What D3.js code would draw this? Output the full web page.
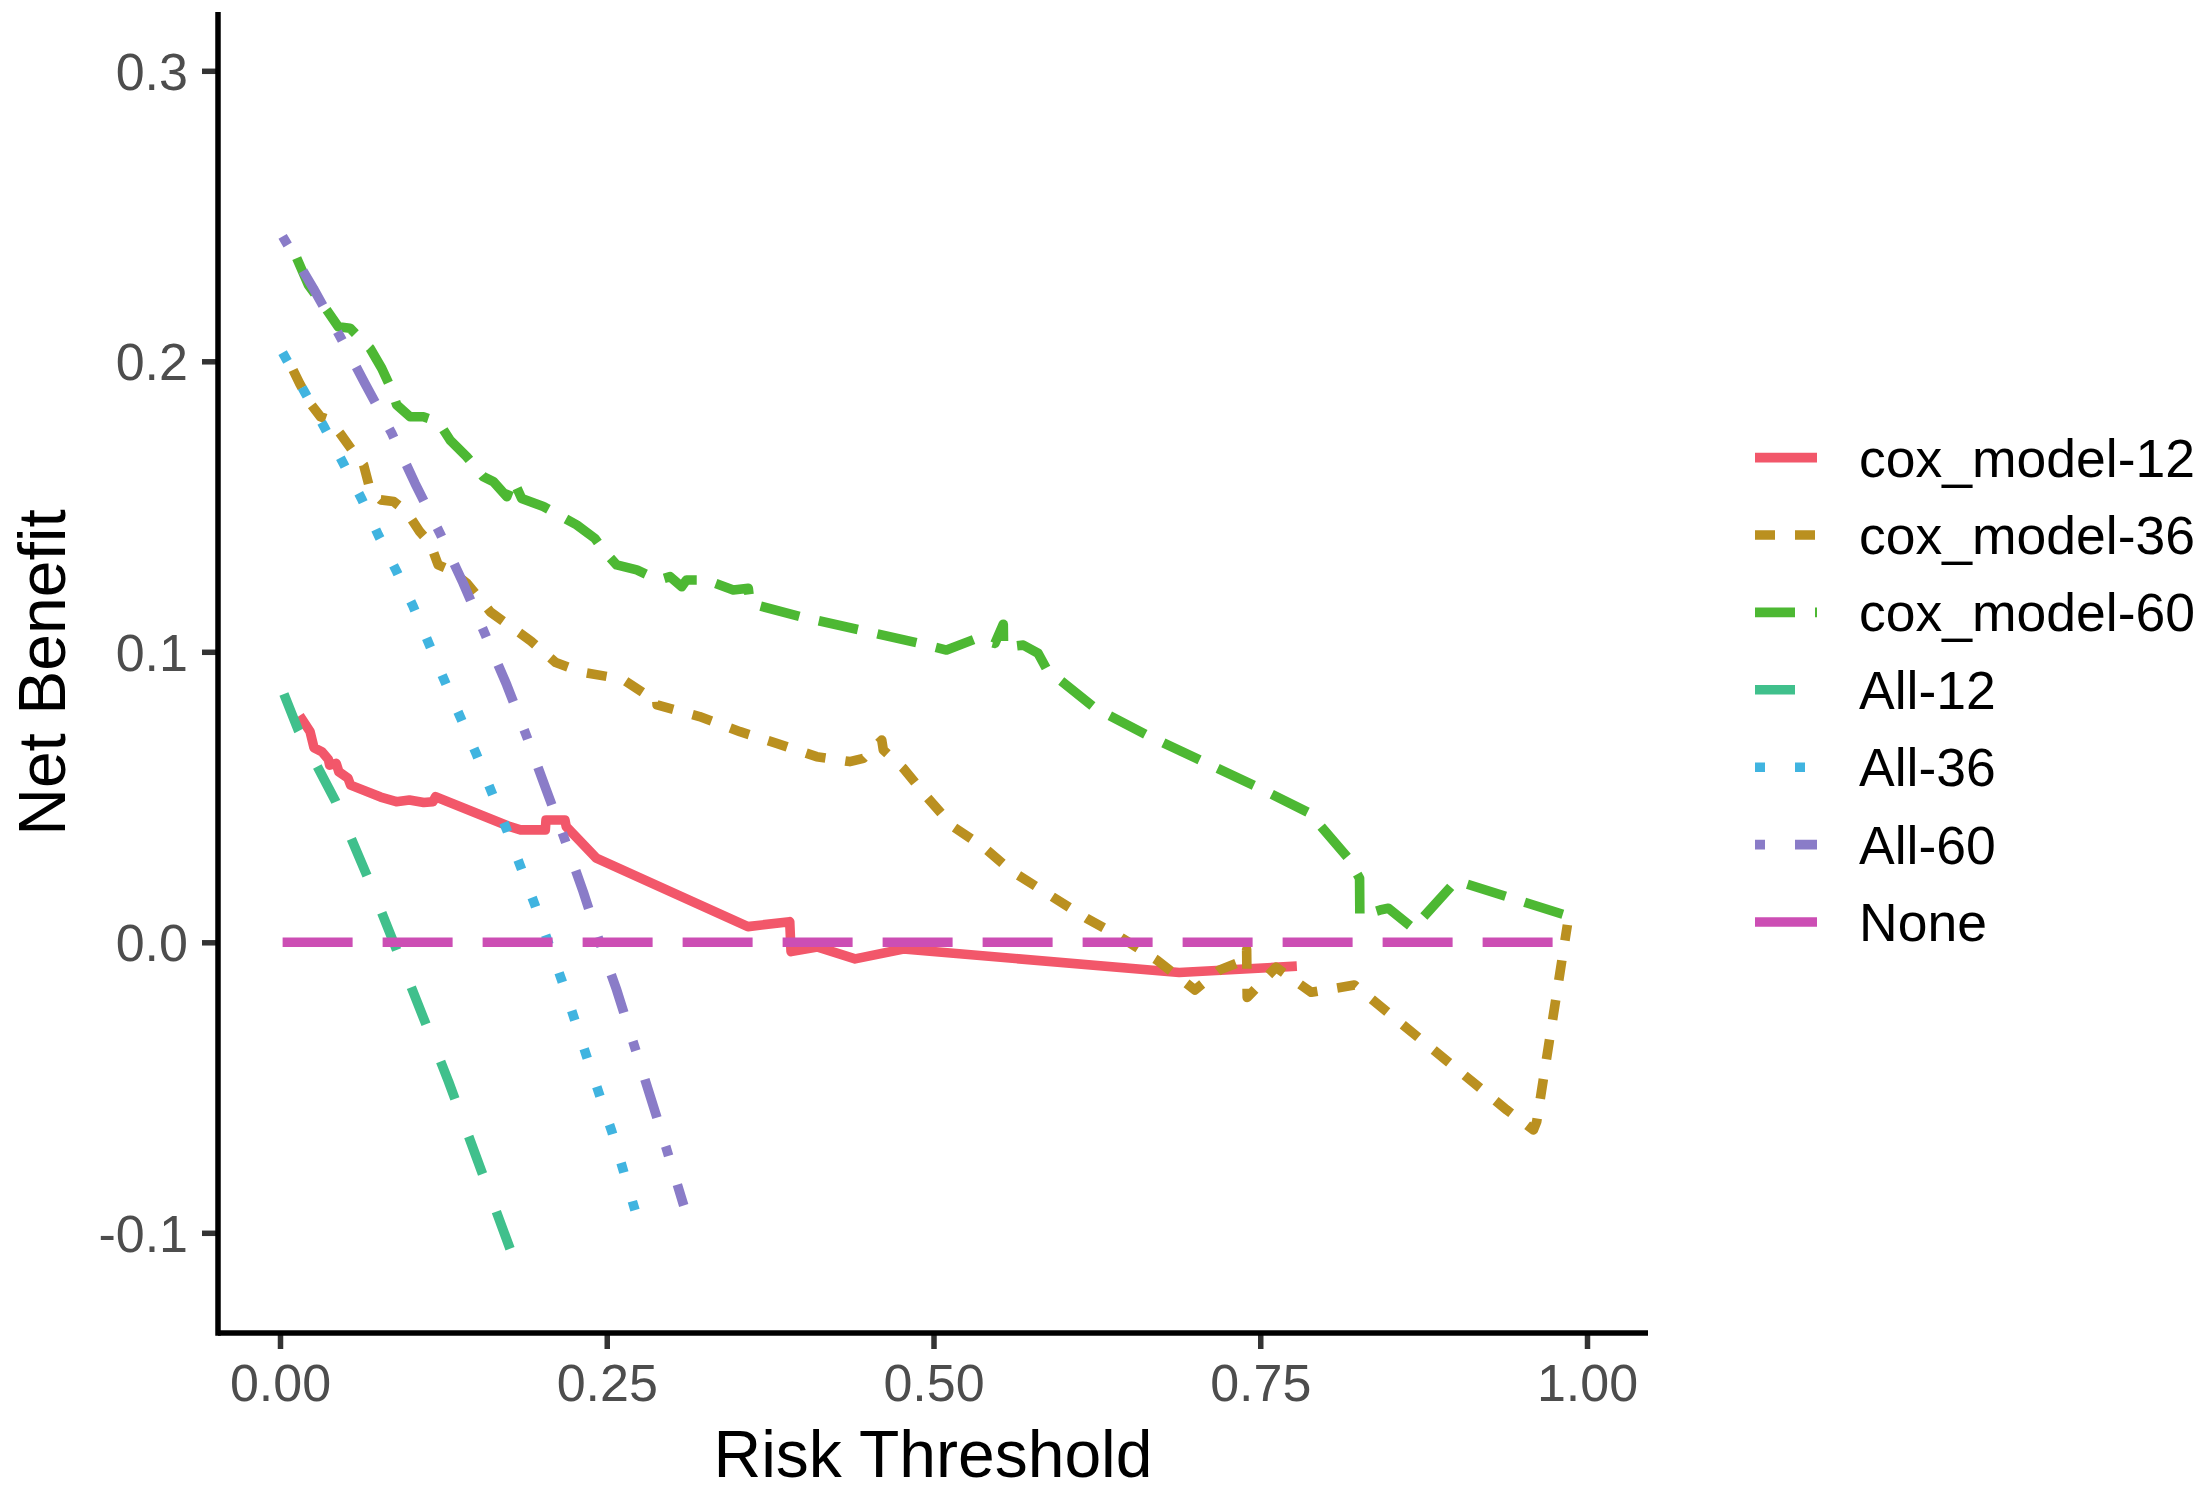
<!DOCTYPE html>
<html>
<head>
<meta charset="utf-8">
<script src="https://cdn.jsdelivr.net/npm/d3@7/dist/d3.min.js"></script>
<style>
  html, body { margin: 0; padding: 0; background: #ffffff; }
  svg { display: block; }
  text { font-family: "Liberation Sans", Arial, Helvetica, sans-serif; }
</style>
</head>
<body>
<svg id="chart" width="2208" height="1494"></svg>
<script>
// ---------- data ----------
const seriesNames = ["cox_model-12", "cox_model-36", "cox_model-60", "All-12", "All-36", "All-60", "None"];
const seriesColors = ["#F2576A", "#BA9020", "#4DB833", "#40C08C", "#40B4E0", "#8A7CC8", "#CC4EB4"];
const seriesDashes = ["", "20,20", "40,20", "40,40", "10,30", "10,30,40,30", "70,30"];

const xTicks = [0, 0.25, 0.5, 0.75, 1.0];
const xTickLabels = ["0.00", "0.25", "0.50", "0.75", "1.00"];
const yTicks = [-0.1, 0.0, 0.1, 0.2, 0.3];
const yTickLabels = ["-0.1", "0.0", "0.1", "0.2", "0.3"];

// [risk threshold, net benefit]
const coxModel12 = [
  [0.015, 0.078], [0.023, 0.0725], [0.026, 0.067], [0.032, 0.0656], [0.037, 0.063],
  [0.038, 0.061], [0.043, 0.0616], [0.045, 0.0587], [0.052, 0.0565], [0.054, 0.0541],
  [0.077, 0.050], [0.089, 0.0484], [0.099, 0.049], [0.110, 0.0481], [0.117, 0.0484],
  [0.119, 0.0501], [0.176, 0.0398], [0.184, 0.0387], [0.203, 0.0387], [0.2035, 0.0421],
  [0.218, 0.0421], [0.219, 0.0398], [0.242, 0.029], [0.358, 0.0054], [0.390, 0.0071],
  [0.391, -0.0032], [0.411, -0.0016], [0.440, -0.0057], [0.477, -0.0023], [0.688, -0.0104],
  [0.778, -0.0082]
];
const coxModel36 = [
  [0.010, 0.197], [0.015, 0.1924], [0.024, 0.185], [0.031, 0.1809], [0.038, 0.1798],
  [0.046, 0.1752], [0.056, 0.1689], [0.064, 0.1643], [0.069, 0.1557], [0.077, 0.1523],
  [0.087, 0.1517], [0.097, 0.1482], [0.107, 0.1413], [0.115, 0.1373], [0.121, 0.1299],
  [0.130, 0.1282], [0.143, 0.1236], [0.161, 0.1137], [0.192, 0.1037], [0.211, 0.0963],
  [0.231, 0.093], [0.262, 0.0906], [0.279, 0.0856], [0.2882, 0.0845], [0.2885, 0.0817],
  [0.321, 0.0777], [0.352, 0.0725], [0.380, 0.0685], [0.4106, 0.0639], [0.436, 0.0622],
  [0.4463, 0.0633], [0.4604, 0.0696], [0.4616, 0.0662], [0.4769, 0.0599], [0.4948, 0.0501],
  [0.515, 0.0398], [0.538, 0.0329], [0.5585, 0.0249], [0.617, 0.0083], [0.6427, 0.0019],
  [0.6708, -0.0061], [0.700, -0.0164], [0.719, -0.0095], [0.739, -0.0060], [0.7396, -0.0025],
  [0.7400, -0.0190], [0.762, -0.0086], [0.789, -0.0172], [0.822, -0.0147], [0.9386, -0.0577],
  [0.959, -0.0646], [0.9615, -0.0618], [0.985, 0.006]
];
const coxModel60 = [
  [0.0128, 0.2355], [0.0217, 0.2263], [0.0357, 0.2177], [0.0446, 0.2119], [0.0536, 0.2114],
  [0.0612, 0.2079], [0.0689, 0.2045], [0.0778, 0.1976], [0.0855, 0.1901], [0.0893, 0.185],
  [0.0995, 0.1809], [0.1097, 0.1809], [0.1211, 0.1792], [0.1301, 0.1729], [0.1428, 0.1672],
  [0.1555, 0.1603], [0.1632, 0.1586], [0.1735, 0.1534], [0.1785, 0.1591], [0.1849, 0.1528],
  [0.2015, 0.150], [0.227, 0.1437], [0.241, 0.139], [0.2474, 0.135], [0.2576, 0.1299],
  [0.273, 0.1282], [0.2895, 0.1247], [0.2984, 0.1259], [0.3073, 0.1224], [0.311, 0.1247],
  [0.329, 0.1247], [0.3328, 0.1236], [0.3468, 0.1213], [0.3583, 0.1219], [0.3596, 0.1167],
  [0.398, 0.1121], [0.4438, 0.1075], [0.4897, 0.1029], [0.510, 0.1006], [0.533, 0.1046],
  [0.547, 0.1029], [0.5534, 0.1095], [0.5536, 0.1015], [0.5687, 0.1023], [0.580, 0.0995],
  [0.5866, 0.0940], [0.6236, 0.0806], [0.663, 0.0714], [0.747, 0.0536], [0.788, 0.0444],
  [0.8174, 0.0289], [0.826, 0.022], [0.8262, 0.0090], [0.8416, 0.0111], [0.848, 0.0117],
  [0.867, 0.0048], [0.900, 0.0212], [0.979, 0.0100], [0.996, 0.0077]
];
const all12 = [
  [0.003, 0.0855], [0.014, 0.073], [0.042, 0.049], [0.0663, 0.0232], [0.0893, -0.0027],
  [0.129, -0.048], [0.176, -0.1055]
];
const all36 = [
  [0.002, 0.203], [0.0191, 0.1892], [0.0344, 0.1769], [0.0484, 0.1649], [0.0625, 0.1526],
  [0.0752, 0.1402], [0.0893, 0.1276], [0.102, 0.1155], [0.1262, 0.0897], [0.1505, 0.0645],
  [0.1735, 0.0387], [0.1951, 0.0128], [0.2155, -0.013], [0.2345, -0.0391], [0.254, -0.0653],
  [0.2716, -0.0922]
];
const all60 = [
  [0.002, 0.243], [0.0255, 0.2251], [0.046, 0.2085], [0.065, 0.1924], [0.0855, 0.1752],
  [0.1033, 0.158], [0.1224, 0.1408], [0.1402, 0.1236], [0.1735, 0.0886], [0.1888, 0.0708],
  [0.2028, 0.0536], [0.218, 0.0352], [0.232, 0.0174], [0.2448, -0.0003], [0.2576, -0.0164],
  [0.289, -0.0612], [0.3089, -0.0906]
];
const noneLine = [[0.002, 0], [0.99, 0]];

const seriesData = [coxModel12, coxModel36, coxModel60, all12, all36, all60, noneLine];

// ---------- layout ----------
const svg = d3.select("#chart");
const panel = { left: 218, right: 1648, top: 12, bottom: 1333 };
const x = d3.scaleLinear().domain([0, 1]).range([280, 1587]);
const y = d3.scaleLinear().domain([-0.1, 0.3]).range([1232.8, 70.8]);
const lineW = 9.6;

svg.append("rect").attr("width", 2208).attr("height", 1494).attr("fill", "#ffffff");

// lines
const lineGen = d3.line().x(d => x(d[0])).y(d => y(d[1]));
const gLines = svg.append("g");
seriesData.forEach((data, i) => {
  gLines.append("path")
    .attr("d", lineGen(data))
    .attr("fill", "none")
    .attr("stroke", seriesColors[i])
    .attr("stroke-width", lineW)
    .attr("stroke-linejoin", "round")
    .attr("stroke-linecap", "butt")
    .attr("stroke-dasharray", seriesDashes[i] || null);
});

// axes
const xAxis = d3.axisBottom(x).tickValues(xTicks).tickFormat((d, i) => xTickLabels[i]).tickSize(16).tickPadding(16);
const yAxis = d3.axisLeft(y).tickValues(yTicks).tickFormat((d, i) => yTickLabels[i]).tickSize(16).tickPadding(14);

const gx = svg.append("g").attr("transform", `translate(0,${panel.bottom})`).call(xAxis);
const gy = svg.append("g").attr("transform", `translate(${panel.left},0)`).call(yAxis);

[gx, gy].forEach(g => {
  g.select(".domain").remove();
  g.selectAll(".tick line").attr("stroke", "#333333").attr("stroke-width", 5.5);
  g.selectAll(".tick text").attr("fill", "#4D4D4D").attr("font-size", 52)
    .attr("font-family", "'Liberation Sans', Arial, sans-serif");
});
gx.selectAll(".tick text").attr("dy", null).attr("y", 68);
gy.selectAll(".tick text").attr("dy", "0.355em");

// axis lines
svg.append("line").attr("x1", panel.left).attr("x2", panel.right)
  .attr("y1", panel.bottom).attr("y2", panel.bottom)
  .attr("stroke", "#000000").attr("stroke-width", 5.5);
svg.append("line").attr("x1", panel.left).attr("x2", panel.left)
  .attr("y1", panel.top).attr("y2", panel.bottom + 2.75)
  .attr("stroke", "#000000").attr("stroke-width", 5.5);

// axis titles
svg.append("text").attr("x", (panel.left + panel.right) / 2).attr("y", 1477)
  .attr("text-anchor", "middle").attr("font-size", 66).attr("fill", "#000000")
  .text("Risk Threshold");
svg.append("text").attr("transform", `translate(65,${(panel.top + panel.bottom) / 2}) rotate(-90)`)
  .attr("text-anchor", "middle").attr("font-size", 66).attr("fill", "#000000")
  .text("Net Benefit");

// legend
const legendRowY = d3.scaleLinear().domain([0, 6]).range([457.6, 922]);
const gLeg = svg.append("g");
seriesNames.forEach((name, i) => {
  const cy = legendRowY(i);
  gLeg.append("line")
    .attr("x1", 1755).attr("x2", 1817).attr("y1", cy).attr("y2", cy)
    .attr("stroke", seriesColors[i]).attr("stroke-width", lineW)
    .attr("stroke-linecap", "butt")
    .attr("stroke-dasharray", seriesDashes[i] || null);
  gLeg.append("text")
    .attr("x", 1859).attr("y", cy).attr("dy", "0.355em")
    .attr("font-size", 53.5).attr("fill", "#000000")
    .text(name);
});
</script>
</body>
</html>
